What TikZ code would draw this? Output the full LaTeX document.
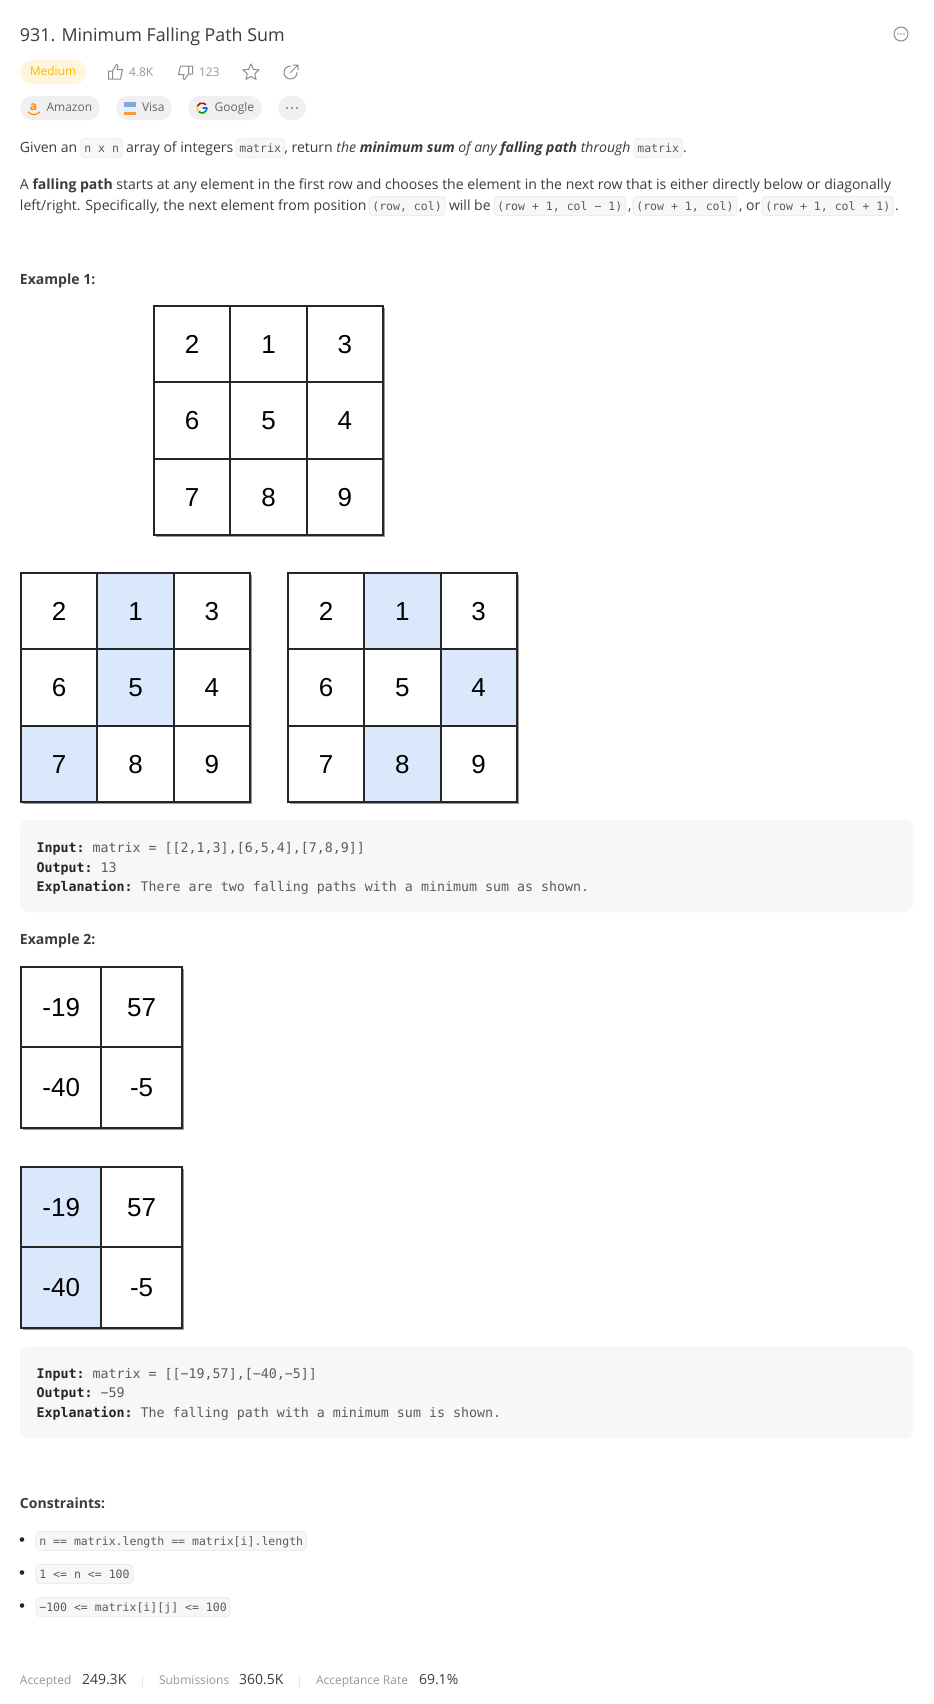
\documentclass[tikz,border=0pt]{standalone}
\usepackage{fontspec}
\setmainfont{Open Sans}
\setmonofont{DejaVu Sans Mono}
\newfontfamily\cellfont{Liberation Sans}
\usetikzlibrary{shapes.geometric, positioning, shadows}
\definecolor{inkdark}{HTML}{262626}
\definecolor{inkgray}{HTML}{8C8C8C}
\definecolor{inkcode}{HTML}{5C5C5C}
\definecolor{chipfill}{HTML}{F7F7F8}
\definecolor{chipline}{HTML}{E8E8E8}
\definecolor{tagfill}{HTML}{F0F0F2}
\definecolor{pathblue}{HTML}{DAE8FC}
\definecolor{easyfill}{HTML}{FFF5DC}
\definecolor{easyink}{HTML}{FFB800}
\newcommand{\codelabel}[1]{\textbf{\textcolor{inkdark}{#1}}}
\begin{document}
\begin{tikzpicture}[
    x=0.75pt, y=-0.75pt,
    every node/.style={inner sep=0pt, outer sep=0pt},
    para/.style={anchor=base west, text=inkdark!90, font=\fontsize{10.53pt}{12pt}\selectfont},
    head/.style={para, font=\fontsize{10.53pt}{12pt}\selectfont\bfseries},
    chip/.style={
        anchor=base west, draw=chipline, fill=chipfill, rounded corners=3pt,
        text=inkcode, inner xsep=2.5pt, inner ysep=0pt,
        text height=10.2pt, text depth=4.2pt, line width=0.5pt,
        font=\ttfamily\fontsize{8.65pt}{10pt}\selectfont
    },
    tag/.style={
        rectangle, fill=tagfill, rounded corners=9pt, minimum height=18pt,
        text=black!60, text height=7pt, text depth=2pt,
        font=\fontsize{9pt}{11pt}\selectfont
    },
    codeline/.style={anchor=base west, text=inkcode, font=\ttfamily\fontsize{9.98pt}{12pt}\selectfont},
    codeblock/.style={rectangle, anchor=north west, fill=chipfill, rounded corners=6pt, minimum width=669.75pt},
    cellbase/.style={
        rectangle, draw=black!85, fill=white, line width=1.5pt,
        drop shadow={shadow xshift=1.8pt, shadow yshift=-1.8pt, fill=black!50, opacity=0.8},
        text height=14pt, text depth=0pt,
        font=\cellfont\fontsize{19.5pt}{22pt}\selectfont
    },
    cell/.style={cellbase, minimum size=57.25pt},
    bigcell/.style={cellbase, minimum size=60.3pt},
    hit/.style={fill=pathblue},
    stat/.style={anchor=base west, text=inkgray!90, font=\fontsize{9pt}{11pt}\selectfont},
    value/.style={anchor=base west, text=inkdark!90, font=\fontsize{10.5pt}{12pt}\selectfont},
    icon/.style={draw=inkgray, line width=0.75pt, line join=round, line cap=round}
]
    \useasboundingbox (0,0) rectangle (933,1704);
    \fill[white] (0,0) rectangle (933,1704);

    % title row
    \node[para, font=\fontsize{13.4pt}{16pt}\selectfont] (title) at (20,41) {931. Minimum Falling Path Sum};
    \draw[icon, inkgray] (901,34) circle[radius=7];
    \fill[inkgray] (898,34) circle[radius=0.8] (901,34) circle[radius=0.8] (904,34) circle[radius=0.8];

    \node[tag, fill=easyfill, text=easyink, minimum width=49.5pt] (medium) at (53,72) {Medium};
    \draw[icon] (108.5,71) rectangle (112.5,79) (112.5,71) -- (116.5,64.5) .. controls (118.5,64.5) and (118,68) .. (117,69.5) -- (122.5,69.5) -- (120.5,79) -- (112.5,79);
    \node[stat] (likes) at (129,76) {4.8K};
    \draw[icon] (188.5,74) rectangle (192.5,66) (188.5,74) -- (184.5,79.5) .. controls (182.5,79.5) and (183,76) .. (184,74.5) -- (178.5,74.5) -- (180.5,66) -- (188.5,66);
    \node[stat] (dislikes) at (199,76) {123};
    \node[star, star points=5, star point ratio=2.1, draw=inkgray, line width=0.75pt, minimum size=12.5pt] (fav) at (251,72.5) {};
    \draw[icon] (297,72.5) arc[start angle=0, end angle=270, radius=6.5];
    \draw[icon] (290.5,72.5) -- (298,65) (293,65) -- (298,65) -- (298,70);

    % company row
    \node[tag, minimum width=60pt] (amazon) at (60,108) {\hspace*{14pt}Amazon};
    \node[tag, minimum width=42pt] (visa) at (144,108) {\hspace*{14pt}Visa};
    \node[tag, minimum width=55.5pt] (google) at (225,108) {\hspace*{14pt}Google};
    \node[tag, minimum width=21pt] (more) at (292,108) {};
    \fill[black!60] (287,108) circle[radius=1] (292,108) circle[radius=1] (297,108) circle[radius=1];
    \node[anchor=base, text=orange!90!yellow, font=\fontsize{9pt}{10pt}\selectfont\bfseries] (amazonlogo) at (33.5,110) {a};
    \draw[orange, line width=0.8pt] (28,112) .. controls (32,115.5) and (36,115.5) .. (40,112);
    \fill[cyan!50!blue!50] (124,102) rectangle (136,106.5);
    \fill[cyan!15] (124,106.5) rectangle (136,111.5);
    \fill[orange!80] (124,112) rectangle (136,114.5);
    \draw[red!80!black, line width=1.2pt] (202,108) ++(200:5) arc[start angle=200, end angle=320, radius=5];
    \draw[yellow!80!orange, line width=1.2pt] (202,108) ++(130:5) arc[start angle=130, end angle=200, radius=5];
    \draw[green!60!black, line width=1.2pt] (202,108) ++(30:5) arc[start angle=30, end angle=130, radius=5];
    \draw[blue!60!cyan, line width=1.2pt] (207,108) arc[start angle=0, end angle=30, radius=5] (207,108) -- (202.5,108);

    % statement
    \node[para] (given) at (20,152) {Given an};
    \node[chip] (nxn) at (81,152) {n x n};
    \node[para] (arrayof) at (126,152) {array of integers};
    \node[chip] (matrixa) at (236,152) {matrix};
    \node[para] (ret) at (284.5,152) {, return \textit{the \textbf{minimum sum} of any \textbf{falling path} through}};
    \node[chip] (matrixb) at (634,152) {matrix};
    \node[para] (dota) at (683,152) {.};
    \node[para] (linea) at (20,189) {A \textbf{falling path} starts at any element in the first row and chooses the element in the next row that is either directly below or diagonally};
    \node[para] (lineb) at (20,210) {left/right. Specifically, the next element from position};
    \node[chip] (rowcol) at (369,210) {(row, col)};
    \node[para] (willbe) at (449,210) {will be};
    \node[chip] (rowa) at (494,210) {(row + 1, col − 1)};
    \node[para] (comma) at (628,210) {,};
    \node[chip] (rowb) at (633,210) {(row + 1, col)};
    \node[para] (commaor) at (739,210) {, or};
    \node[chip] (rowc) at (762,210) {(row + 1, col + 1)};
    \node[para] (dotb) at (895,210) {.};

    % first example
    \node[head] (exone) at (20,284) {Example 1:};
    \node[cell] (aa) at (192.2,344.2) {2};
    \node[cell, right=0pt of aa] (ab) {1};
    \node[cell, right=0pt of ab] (ac) {3};
    \node[cell, below=0pt of aa] (ad) {6};
    \node[cell, right=0pt of ad] (ae) {5};
    \node[cell, right=0pt of ae] (af) {4};
    \node[cell, below=0pt of ad] (ag) {7};
    \node[cell, right=0pt of ag] (ah) {8};
    \node[cell, right=0pt of ah] (ai) {9};

    \node[cell] (ba) at (59.2,611) {2};
    \node[cell, hit, right=0pt of ba] (bb) {1};
    \node[cell, right=0pt of bb] (bc) {3};
    \node[cell, below=0pt of ba] (bd) {6};
    \node[cell, hit, right=0pt of bd] (be) {5};
    \node[cell, right=0pt of be] (bf) {4};
    \node[cell, hit, below=0pt of bd] (bg) {7};
    \node[cell, right=0pt of bg] (bh) {8};
    \node[cell, right=0pt of bh] (bi) {9};

    \node[cell] (ca) at (326,611) {2};
    \node[cell, hit, right=0pt of ca] (cb) {1};
    \node[cell, right=0pt of cb] (cc) {3};
    \node[cell, below=0pt of ca] (cd) {6};
    \node[cell, right=0pt of cd] (ce) {5};
    \node[cell, hit, right=0pt of ce] (cf) {4};
    \node[cell, below=0pt of cd] (cg) {7};
    \node[cell, hit, right=0pt of cg] (ch) {8};
    \node[cell, right=0pt of ch] (ci) {9};

    \node[codeblock, minimum height=69pt] (blockone) at (20,820) {};
    \node[codeline] (inputone) at (36.5,852) {\codelabel{Input:} matrix = [[2,1,3],[6,5,4],[7,8,9]]};
    \node[codeline] (outputone) at (36.5,872) {\codelabel{Output:} 13};
    \node[codeline] (explainone) at (36.5,891) {\codelabel{Explanation:} There are two falling paths with a minimum sum as shown.};

    % second example
    \node[head] (extwo) at (20,944) {Example 2:};
    \node[bigcell] (da) at (61.2,1007) {-19};
    \node[bigcell, right=0pt of da] (db) {57};
    \node[bigcell, below=0pt of da] (dc) {-40};
    \node[bigcell, right=0pt of dc] (dd) {-5};

    \node[bigcell, hit] (ea) at (61.2,1207) {-19};
    \node[bigcell, right=0pt of ea] (eb) {57};
    \node[bigcell, hit, below=0pt of ea] (ec) {-40};
    \node[bigcell, right=0pt of ec] (ed) {-5};

    \node[codeblock, minimum height=68.5pt] (blocktwo) at (20,1347) {};
    \node[codeline] (inputtwo) at (36.5,1378) {\codelabel{Input:} matrix = [[−19,57],[−40,−5]]};
    \node[codeline] (outputtwo) at (36.5,1397) {\codelabel{Output:} −59};
    \node[codeline] (explaintwo) at (36.5,1417) {\codelabel{Explanation:} The falling path with a minimum sum is shown.};

    % constraints
    \node[head] (limits) at (20,1508) {Constraints:};
    \fill[inkdark] (22,1539.5) circle[radius=2.3] (22,1572.5) circle[radius=2.3] (22,1605.5) circle[radius=2.3];
    \node[chip] (limita) at (36,1545) {n == matrix.length == matrix[i].length};
    \node[chip] (limitb) at (36,1578) {1 <= n <= 100};
    \node[chip] (limitc) at (36,1611) {−100 <= matrix[i][j] <= 100};

    % footer
    \node[stat] (acc) at (20,1684) {Accepted};
    \node[value] (accval) at (82,1684) {249.3K};
    \node[stat] (sub) at (159,1684) {Submissions};
    \node[value] (subval) at (239,1684) {360.5K};
    \node[stat] (rate) at (316,1684) {Acceptance Rate};
    \node[value] (rateval) at (419,1684) {69.1\%};
    \draw[chipline, line width=0.75pt] (142.5,1675) -- (142.5,1688) (299.5,1675) -- (299.5,1688);
\end{tikzpicture}
\end{document}
